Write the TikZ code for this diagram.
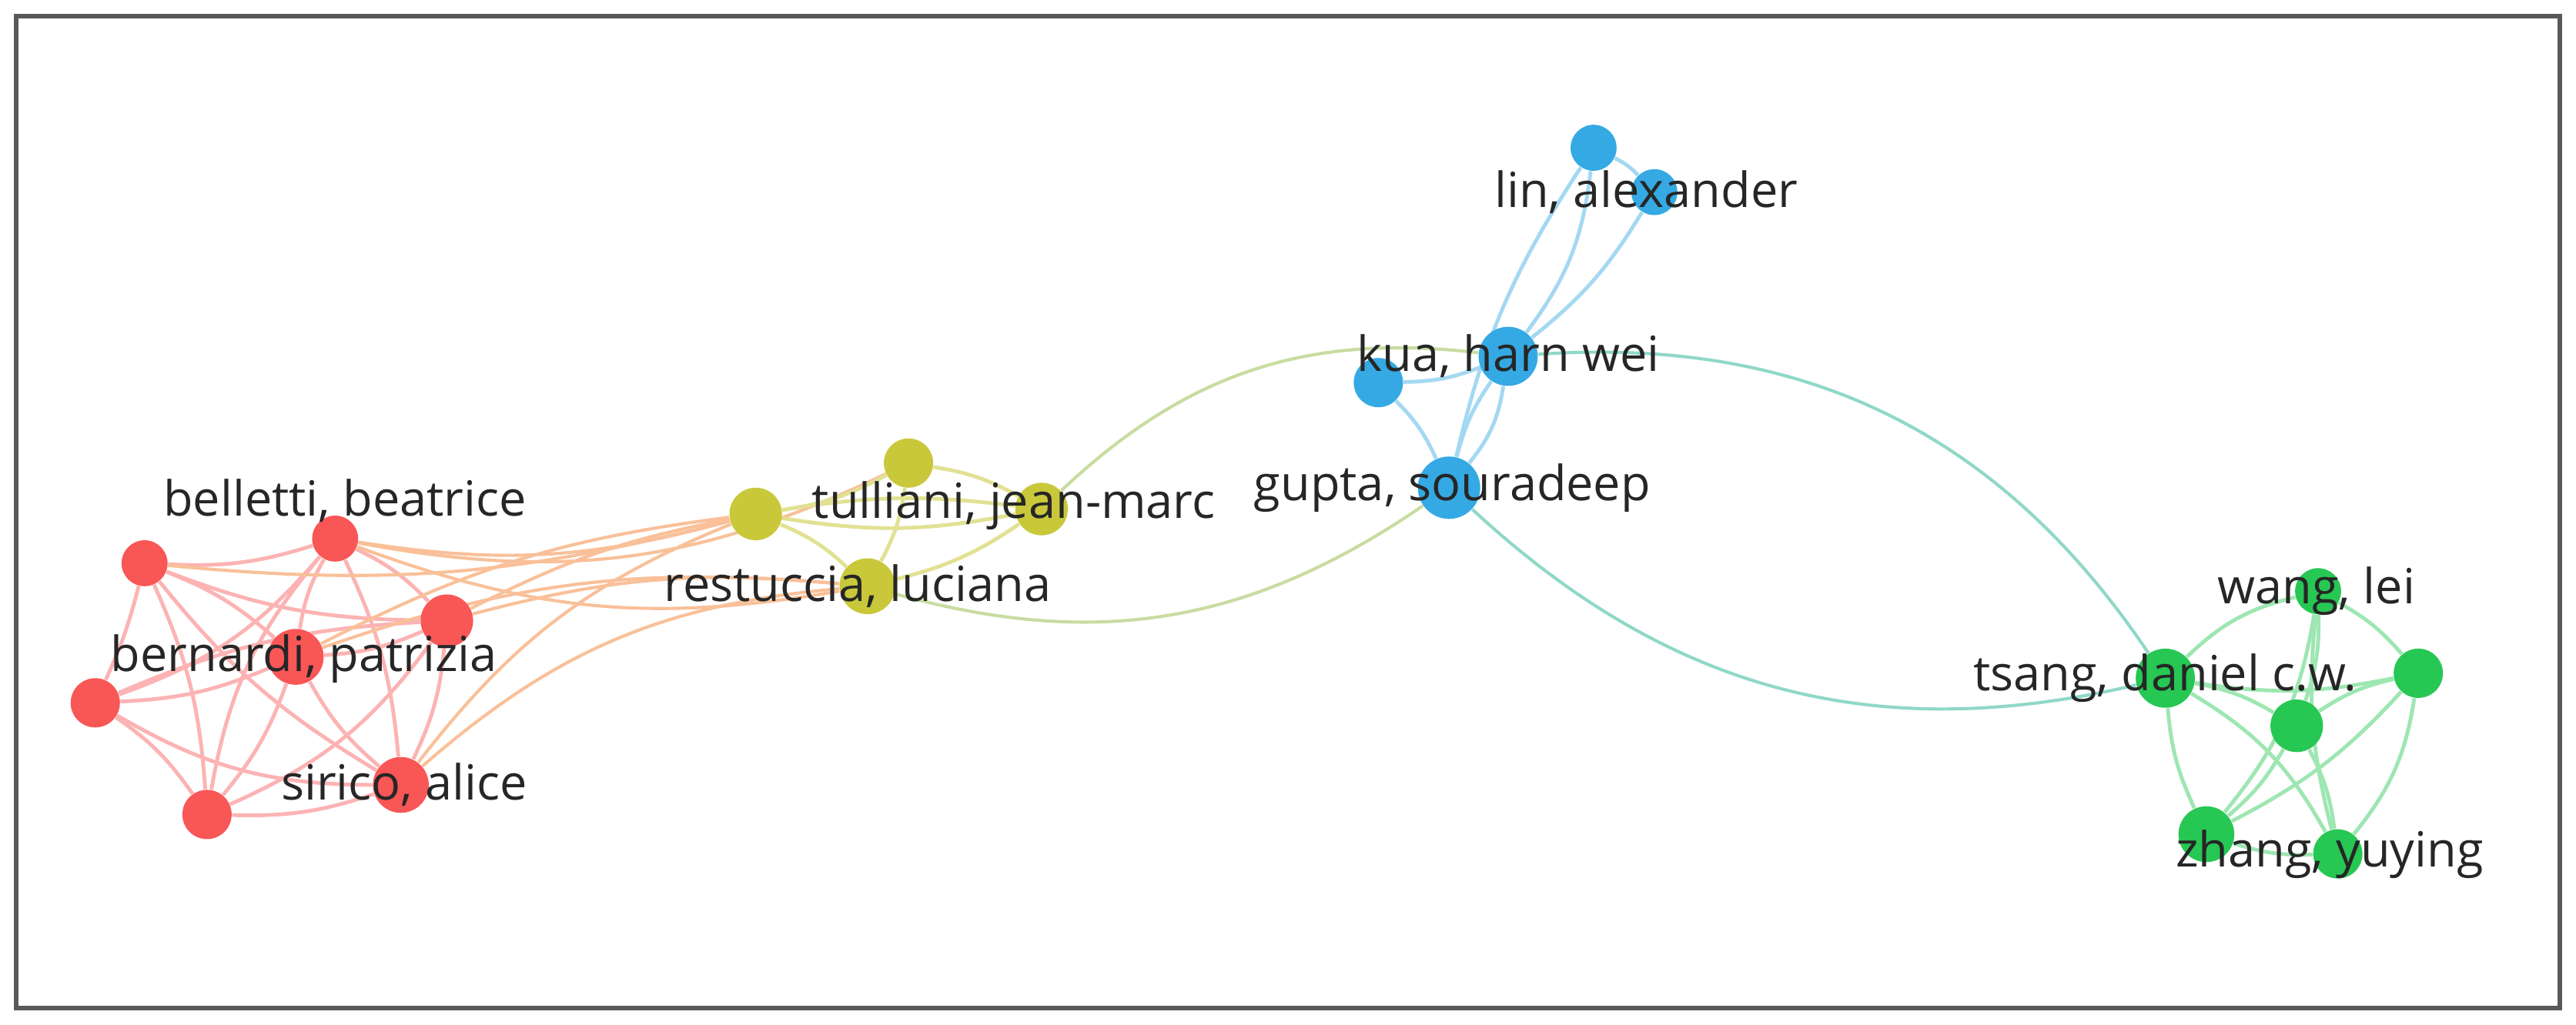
\documentclass[tikz,border=0pt]{standalone}
\usepackage{fontspec}
\setmainfont{Open Sans}
\usetikzlibrary{backgrounds}
\definecolor{cr}{HTML}{F95656}
\definecolor{cy}{HTML}{C9C83A}
\definecolor{cb}{HTML}{35A9E3}
\definecolor{cg}{HTML}{27C754}
\definecolor{co}{HTML}{F8B080}
\definecolor{cyb}{HTML}{C8DCA0}
\definecolor{cbg}{HTML}{90D8C8}
\tikzset{
 nd/.style={circle,inner sep=0pt,minimum size=#1},
 rn/.style={nd=#1,fill=cr},
 yn/.style={nd=#1,fill=cy},
 bn/.style={nd=#1,fill=cb},
 gn/.style={nd=#1,fill=cg},
 lb/.style={font=\fontsize{16.8}{18}\selectfont,text=black!85,inner sep=0pt},
 re/.style={draw=cr!45,line width=1.3pt},
 ye/.style={draw=cy!55,line width=1.3pt},
 oe/.style={draw=co!80,line width=1.1pt},
 be/.style={draw=cb!45,line width=1.3pt},
 ge/.style={draw=cg!45,line width=1.3pt},
}
\begin{document}
\begin{tikzpicture}[x=0.02cm,y=-0.02cm]
\useasboundingbox (0,0) rectangle (1568,624);
\draw[draw=black!65,line width=1.6pt] (10,10) rectangle (1558,614);
\node[rn=0.56cm] (r1) at (204,328) {};
\node[rn=0.56cm] (r2) at (88,343) {};
\node[rn=0.64cm] (r3) at (272,378) {};
\node[rn=0.68cm] (r4) at (180,400) {};
\node[rn=0.6cm] (r5) at (58,428) {};
\node[rn=0.68cm] (r6) at (244,478) {};
\node[rn=0.6cm] (r7) at (126,496) {};
\node[yn=0.64cm] (y1) at (460,313) {};
\node[yn=0.6cm] (y2) at (553,282) {};
\node[yn=0.64cm] (y3) at (634,310) {};
\node[yn=0.68cm] (y4) at (528,357) {};
\node[bn=0.56cm] (b1) at (970,90) {};
\node[bn=0.56cm] (b2) at (1007,117) {};
\node[bn=0.72cm] (b3) at (918,217) {};
\node[bn=0.6cm] (b4) at (839,233) {};
\node[bn=0.76cm] (b5) at (882,297) {};
\node[gn=0.56cm] (g1) at (1411,360) {};
\node[gn=0.6cm] (g2) at (1472,410) {};
\node[gn=0.72cm] (g3) at (1318,413) {};
\node[gn=0.64cm] (g4) at (1398,442) {};
\node[gn=0.68cm] (g5) at (1343,508) {};
\node[gn=0.6cm] (g6) at (1423,520) {};
\node[lb] (lr1) at (210,305) {belletti, beatrice};
\node[lb] (lr4) at (185,401) {bernardi, patrizia};
\node[lb] (lr6) at (246,478) {sirico, alice};
\node[lb] (ly3) at (617,308) {tulliani, jean-marc};
\node[lb] (ly4) at (522,357) {restuccia, luciana};
\node[lb] (lb2) at (1002,117) {lin, alexander};
\node[lb] (lb3) at (918,217) {kua, harn wei};
\node[lb] (lb5) at (884,297) {gupta, souradeep};
\node[lb] (lg1) at (1410,360) {wang, lei};
\node[lb] (lg3) at (1318,413) {tsang, daniel c.w.};
\node[lb] (lg6) at (1418,520) {zhang, yuying};
\begin{pgfonlayer}{background}
\foreach \a/\b/\c in {r1/r2/10,r1/r3/10,r1/r4/-10,r1/r5/15,r1/r6/10,r1/r7/-15,r2/r3/-10,r2/r4/10,r2/r5/5,r2/r6/-10,r2/r7/10,r3/r4/10,r3/r5/-10,r3/r6/10,r3/r7/15,r4/r5/10,r4/r6/-10,r4/r7/10,r5/r6/-15,r5/r7/10,r6/r7/10}
  \draw[re] (\a) to[bend left=\c] (\b);
\foreach \a/\b/\c in {r1/y1/-12,r1/y4/-15,r2/y1/-10,r3/y1/8,r3/y4/10,r4/y1/10,r4/y4/12,r6/y1/15,r6/y4/18,r1/y2/-18}
  \draw[oe] (\a) to[bend left=\c] (\b);
\foreach \a/\b/\c in {y1/y2/-10,y1/y3/-10,y1/y4/10,y2/y3/10,y2/y4/10,y3/y4/10,y1/y3/8}
  \draw[ye] (\a) to[bend left=\c] (\b);
\draw[draw=cyb,line width=1.1pt] (y4) to[bend right=25] (b5);
\draw[draw=cyb,line width=1.1pt] (y3) to[bend left=25] (b3);
\foreach \a/\b/\c in {b1/b2/10,b1/b3/15,b2/b3/10,b1/b5/-10,b3/b4/10,b3/b5/15,b4/b5/10,b3/b5/-10}
  \draw[be] (\a) to[bend left=\c] (\b);
\draw[draw=cbg,line width=1.1pt] (b3) to[bend left=30] (g3);
\draw[draw=cbg,line width=1.1pt] (b5) to[bend right=28] (g3);
\foreach \a/\b/\c in {g1/g2/10,g1/g3/-15,g1/g4/10,g1/g5/15,g1/g6/-10,g2/g3/10,g2/g4/-10,g2/g5/10,g2/g6/15,g3/g4/10,g3/g5/-10,g3/g6/15,g4/g5/10,g4/g6/10,g5/g6/-10}
  \draw[ge] (\a) to[bend left=\c] (\b);
\end{pgfonlayer}
\end{tikzpicture}
\end{document}
